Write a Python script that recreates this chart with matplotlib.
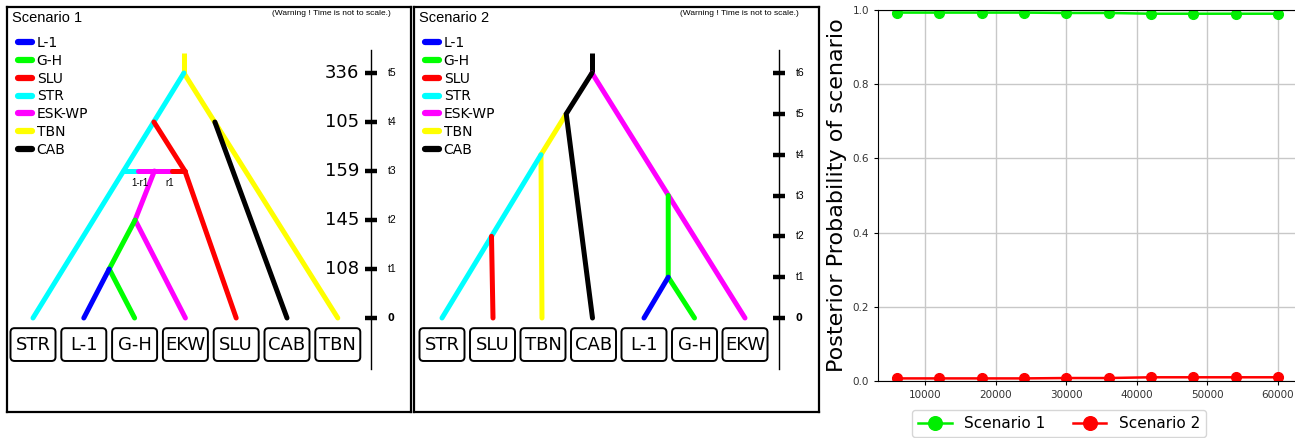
import matplotlib
matplotlib.use("Agg")
import matplotlib.pyplot as plt
import matplotlib.font_manager as fm
import matplotlib.transforms as mtransforms
from matplotlib.lines import Line2D
from matplotlib.patches import FancyBboxPatch

# populations (legend of both scenarios)
pop_names = ["L-1", "G-H", "SLU", "STR", "ESK-WP", "TBN", "CAB"]
pop_colors = ["#0000ff", "#00ff00", "#ff0000", "#00ffff", "#ff00ff", "#ffff00", "#000000"]

# scenario 1 : leaves (slot 0..6), time labels per level, branches as (pop, [(slot, level), ...])
s1_leaves = ["STR", "L-1", "G-H", "EKW", "SLU", "CAB", "TBN"]
s1_values = ["", "108", "145", "159", "105", "336"]
s1_ticks = ["0", "t1", "t2", "t3", "t4", "t5"]
s1_root = ("TBN", 2.97, 5)
s1_branches = [
    ("TBN", [(2.97, 5), (6, 0)]),
    ("CAB", [(3.58, 4), (5, 0)]),
    ("STR", [(2.97, 5), (0, 0)]),
    ("SLU", [(2.38, 4), (2.99, 3), (4, 0)]),
    ("ESK-WP", [(2.39, 3), (2.01, 2), (3, 0)]),
    ("STR", [(1.78, 3), (2.06, 3)]),
    ("ESK-WP", [(2.06, 3), (2.74, 3)]),
    ("SLU", [(2.74, 3), (2.99, 3)]),
    ("G-H", [(2.01, 2), (1.5, 1), (2, 0)]),
    ("L-1", [(1.5, 1), (1, 0)]),
]
s1_admix = [("1-r1", 2.11, 3), ("r1", 2.70, 3)]

# scenario 2
s2_leaves = ["STR", "SLU", "TBN", "CAB", "L-1", "G-H", "EKW"]
s2_values = ["", "", "", "", "", "", ""]
s2_ticks = ["0", "t1", "t2", "t3", "t4", "t5", "t6"]
s2_root = ("CAB", 2.97, 6)
s2_branches = [
    ("ESK-WP", [(2.97, 6), (6, 0)]),
    ("TBN", [(2.46, 5), (1.96, 4), (1.98, 0)]),
    ("CAB", [(2.97, 6), (2.46, 5), (2.98, 0)]),
    ("STR", [(1.96, 4), (0, 0)]),
    ("SLU", [(0.98, 2), (1.01, 0)]),
    ("G-H", [(4.48, 3), (4.48, 1), (5, 0)]),
    ("L-1", [(4.48, 1), (4, 0)]),
]
s2_admix = []

# posterior probabilities
n_sim = [6000, 12000, 18000, 24000, 30000, 36000, 42000, 48000, 54000, 60000]
prob_s1 = [0.993, 0.993, 0.993, 0.993, 0.992, 0.992, 0.990, 0.990, 0.990, 0.990]
prob_s2 = [0.007, 0.007, 0.007, 0.007, 0.008, 0.008, 0.010, 0.010, 0.010, 0.010]

W, H = 1295, 438
names = {f.name for f in fm.fontManager.ttflist}
narrow = "Liberation Sans Narrow" if "Liberation Sans Narrow" in names else "Liberation Sans"
col = dict(zip(pop_names, pop_colors))

fig = plt.figure(figsize=(W / 100, H / 100), dpi=100)


def tree_panel(box, x0, slot_px, level_px, title, leaves, values, ticks, root, branches, admix):
    L, T, R, B = box
    base = 318
    ax = fig.add_axes([L / W, 1 - B / H, (R - L) / W, (B - T) / H])
    ax.set_xlim((L - x0) / slot_px, (R - x0) / slot_px)
    ax.set_ylim((base - B) / level_px, (base - T) / level_px)
    ax.set_xticks([])
    ax.set_yticks([])
    for s in ax.spines.values():
        s.set_linewidth(1.6)

    # root stub
    stub_top = (base - 53) / level_px
    ax.plot([root[1], root[1]], [root[2], stub_top], color=col[root[0]], lw=3.6,
            solid_capstyle="butt")
    for pop, pts in branches:
        xs = [p[0] for p in pts]
        ys = [p[1] for p in pts]
        ax.plot(xs, ys, color=col[pop], lw=3.6, solid_capstyle="round",
                solid_joinstyle="miter")
    for lab, x, y in admix:
        ax.annotate(lab, (x, y), xytext=(0, -8.5), textcoords="offset points",
                    ha="center", va="center", fontsize=7, family=narrow)

    # time axis
    bt = mtransforms.blended_transform_factory(ax.transAxes, ax.transData)
    ax.plot([0.902, 0.902], [0.106, 0.894], color="black", lw=1.0, transform=ax.transAxes)
    for lev, (tk, v) in enumerate(zip(ticks, values)):
        ax.plot([0.887, 0.917], [lev, lev], color="black", lw=3.2, transform=bt,
                solid_capstyle="butt")
        if lev == 0:
            ax.text(0.943, lev, tk, transform=bt, ha="left", va="center", fontsize=7,
                    fontweight="bold")
        else:
            ax.text(0.943, lev, tk, transform=bt, ha="left", va="center", fontsize=7.5,
                    family=narrow)
        if v:
            ax.text(0.871, lev, v, transform=bt, ha="right", va="center", fontsize=13)

    # leaf boxes
    bx = mtransforms.blended_transform_factory(ax.transData, ax.transAxes)
    bw = 45 / slot_px
    for i, name in enumerate(leaves):
        p = FancyBboxPatch((i - bw / 2, 0.126), bw, 0.081,
                           boxstyle="round,pad=0,rounding_size=%f" % (4 / slot_px),
                           mutation_aspect=(4 / 405) / (4 / slot_px),
                           fc="white", ec="black", lw=1.4, transform=bx)
        ax.add_patch(p)
        ax.text(i, 0.1665, name, transform=bx, ha="center", va="center", fontsize=13)

    ax.text(0.013, 0.972, title, transform=ax.transAxes, ha="left", va="center",
            fontsize=10.5, family=narrow)
    ax.text(0.803, 0.983, "(Warning ! Time is not to scale.)", transform=ax.transAxes,
            ha="center", va="center", fontsize=6, family=narrow)

    handles = [Line2D([], [], color=c, lw=4.5, solid_capstyle="round") for c in pop_colors]
    ax.legend(handles, pop_names, loc="upper left", bbox_to_anchor=(0.027, 0.928),
              frameon=False, fontsize=10, handlelength=1.0, handletextpad=0.35,
              labelspacing=0.27, borderpad=0, borderaxespad=0)
    return ax


tree_panel((7, 7, 411, 412), 33, 50.8, 49.0, "Scenario 1", s1_leaves, s1_values, s1_ticks,
           s1_root, s1_branches, s1_admix)
tree_panel((414, 7, 819, 412), 442, 50.5, 40.83, "Scenario 2", s2_leaves, s2_values,
           s2_ticks, s2_root, s2_branches, s2_admix)

# posterior probability chart
ax = fig.add_axes([878 / W, (H - 381) / H, (1297 - 878) / W, (381 - 10) / H])
ax.plot(n_sim, prob_s1, color="#00ee00", marker="o", markersize=7, lw=1.8, label="Scenario 1")
ax.plot(n_sim, prob_s2, color="#ff0000", marker="o", markersize=7, lw=1.8, label="Scenario 2")
ax.set_ylim(0, 1)
ax.set_xticks([10000, 20000, 30000, 40000, 50000, 60000])
ax.set_yticks([0.0, 0.2, 0.4, 0.6, 0.8, 1.0])
ax.tick_params(labelsize=7.5, labelcolor="#333333", length=3)
ax.grid(True, color="#c8c8c8", lw=1.0)
ax.set_ylabel("Posterior Probability of scenario", fontsize=16)
ax.legend(loc="upper center", bbox_to_anchor=(0.432, -0.058), ncol=2, fontsize=11,
          markerscale=1.4, handlelength=2.2, columnspacing=1.8)

fig.savefig("out.png", dpi=100)
